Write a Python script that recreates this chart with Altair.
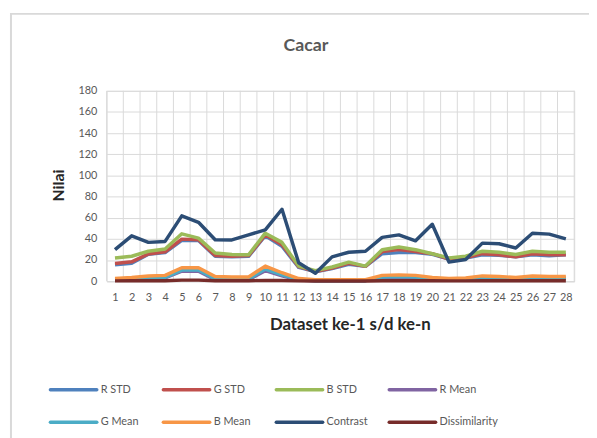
import altair as alt
import pandas as pd

datasets = list(range(1, 29))

r_std = [15.5, 17, 25.5, 27, 38.5, 38.5, 23.5, 23, 23.5, 43, 33, 13, 9, 12, 16, 14, 26, 27, 27, 25.5, 21, 22, 25, 24.5, 23, 25, 24, 25]
g_std = [16.8, 18.3, 25.8, 27.7, 39.8, 39.2, 24.2, 23.6, 24.2, 43.8, 34.5, 13.7, 9, 12.5, 17, 14, 28, 30, 28, 26, 21, 22, 26, 25, 23, 26, 25, 25]
b_std = [22, 23.6, 28.3, 30.5, 44.8, 40.7, 26.7, 25.2, 25, 45.4, 36.7, 14.3, 10, 13.4, 18, 14.3, 29.8, 32.3, 29.8, 26, 22, 23.6, 28.3, 27.4, 25.2, 28.3, 27.4, 27.4]
r_mean = [1, 1.5, 2.5, 3, 9.5, 9.5, 1.5, 1.5, 1.5, 10, 5, 1, 0.5, 0.5, 0.5, 0.5, 3.5, 4, 3.5, 2, 1, 1.5, 3, 2.5, 2, 3, 2.5, 2.5]
g_mean = [1.5, 2, 3, 3.5, 10.5, 10.5, 2, 2, 2, 11.5, 6, 1.5, 0.5, 0.5, 0.5, 0.5, 4, 4.5, 4, 2.5, 1.5, 2, 3.5, 3, 2.5, 3.5, 3, 3]
b_mean = [2.5, 3.5, 5, 5.5, 12.7, 12.7, 4.4, 4, 4, 14.3, 8, 2.5, 1.5, 1.5, 1.5, 1.5, 5.5, 6, 5.5, 3.5, 2.5, 3, 5, 4.5, 3.5, 5, 4.5, 4.5]
contrast = [29.8, 42.9, 36.7, 37.6, 61.8, 55.7, 39.2, 39, 43.8, 48.5, 68, 17.4, 7.5, 23, 27.4, 28.3, 41.4, 43.8, 38.2, 53.8, 18, 20.5, 36, 35.4, 31.4, 45.4, 44.5, 40]
dissimilarity = [0.3, 0.4, 0.5, 0.5, 1, 1, 0.5, 0.4, 0.4, 0.8, 0.6, 0.3, 0.2, 0.2, 0.2, 0.2, 0.5, 0.5, 0.5, 0.4, 0.3, 0.3, 0.5, 0.4, 0.4, 0.5, 0.4, 0.4]

series_names = ["R STD", "G STD", "B STD", "R Mean", "G Mean", "B Mean", "Contrast", "Dissimilarity"]
series_values = [r_std, g_std, b_std, r_mean, g_mean, b_mean, contrast, dissimilarity]
series_colors = ["#4F81BD", "#C0504D", "#9BBB59", "#8064A2", "#4BACC6", "#F79646", "#2C4D75", "#772C2A"]

y_ticks = list(range(0, 181, 20))

rows = []
for name, vals in zip(series_names, series_values):
    for d, v in zip(datasets, vals):
        rows.append({"series": name, "dataset": d, "value": v})
df = pd.DataFrame(rows)

bounds = pd.DataFrame({"b": [d - 0.5 for d in datasets] + [datasets[-1] + 0.5]})

# legend layout (pixel offsets relative to plot area)
LEG_X0, LEG_Y0, LEG_DX, LEG_DY, SYM_W = -57, 303, 114.5, 33, 47
leg = pd.DataFrame({
    "series": series_names,
    "x0": [LEG_X0 + (i % 4) * LEG_DX for i in range(8)],
    "y": [LEG_Y0 + (i // 4) * LEG_DY for i in range(8)],
})
leg["x1"] = leg["x0"] + SYM_W
leg["xt"] = leg["x0"] + SYM_W + 4

FONT = "Lato"
W, H = 474, 193

xscale = alt.Scale(domain=[0.5, 28.5], nice=False, zero=False)
cscale = alt.Scale(domain=series_names, range=series_colors)

border = alt.Chart(pd.DataFrame({"k": [0]})).mark_rect(
    fill=None, stroke="#d9d9d9", strokeWidth=2
).encode(
    x=alt.value(-97), x2=alt.value(540), y=alt.value(-78), y2=alt.value(400)
)

vgrid = alt.Chart(bounds).mark_rule(color="#d9d9d9", strokeWidth=1).encode(
    x=alt.X("b:Q", scale=xscale, axis=None)
)

lines = alt.Chart(df).mark_line(strokeWidth=3.5, strokeJoin="round").encode(
    x=alt.X(
        "dataset:Q",
        scale=xscale,
        axis=alt.Axis(
            values=datasets, title=None, grid=False, ticks=False,
            domain=True, domainColor="#d9d9d9", domainWidth=1,
            labelFont=FONT, labelFontSize=11, labelColor="#595959",
            labelPadding=11, labelFlush=False,
        ),
    ),
    y=alt.Y(
        "value:Q",
        scale=alt.Scale(domain=[0, 180], nice=False),
        axis=alt.Axis(
            values=y_ticks, title=None, grid=True, gridColor="#d9d9d9",
            ticks=False, domain=False, labelFont=FONT, labelFontSize=11,
            labelColor="#595959", labelPadding=10,
        ),
    ),
    color=alt.Color("series:N", scale=cscale, sort=series_names, legend=None),
    detail="series:N",
)

leg_sym = alt.Chart(leg).mark_rule(strokeWidth=3.5, strokeCap="round").encode(
    x=alt.X("x0:Q", scale=None, axis=None),
    x2="x1:Q",
    y=alt.Y("y:Q", scale=None, axis=None),
    color=alt.Color("series:N", scale=cscale, legend=None),
)

leg_txt = alt.Chart(leg).mark_text(
    font=FONT, fontSize=11, color="#595959", align="left", baseline="middle"
).encode(
    x=alt.X("xt:Q", scale=None, axis=None),
    y=alt.Y("y:Q", scale=None, axis=None),
    text="series:N",
)

title_t = alt.Chart(pd.DataFrame({"t": ["Cacar"]})).mark_text(
    font=FONT, fontSize=18, fontWeight="bold", color="#595959", align="center", baseline="middle"
).encode(text="t:N", x=alt.value(202), y=alt.value(-45))

ytitle = alt.Chart(pd.DataFrame({"t": ["Nilai"]})).mark_text(
    font=FONT, fontSize=16, fontWeight="bold", color="#262626", align="center", baseline="middle", angle=270
).encode(text="t:N", x=alt.value(-48), y=alt.value(96))

xtitle = alt.Chart(pd.DataFrame({"t": ["Dataset ke-1 s/d ke-n"]})).mark_text(
    font=FONT, fontSize=17, fontWeight="bold", color="#262626", align="center", baseline="middle"
).encode(text="t:N", x=alt.value(247), y=alt.value(237))

chart = alt.layer(border, vgrid, lines, leg_sym, leg_txt, title_t, ytitle, xtitle).resolve_scale(
    x="independent", y="independent", color="shared"
).properties(
    width=W, height=H,
    padding={"left": 100, "top": 81, "right": 15, "bottom": 156},
    autosize=alt.AutoSizeParams(type="none"),
).configure_view(stroke=None, fill="#f4f4f4").configure(background="white")

chart.save("out.html", embed_options={"renderer": "svg", "actions": False})
